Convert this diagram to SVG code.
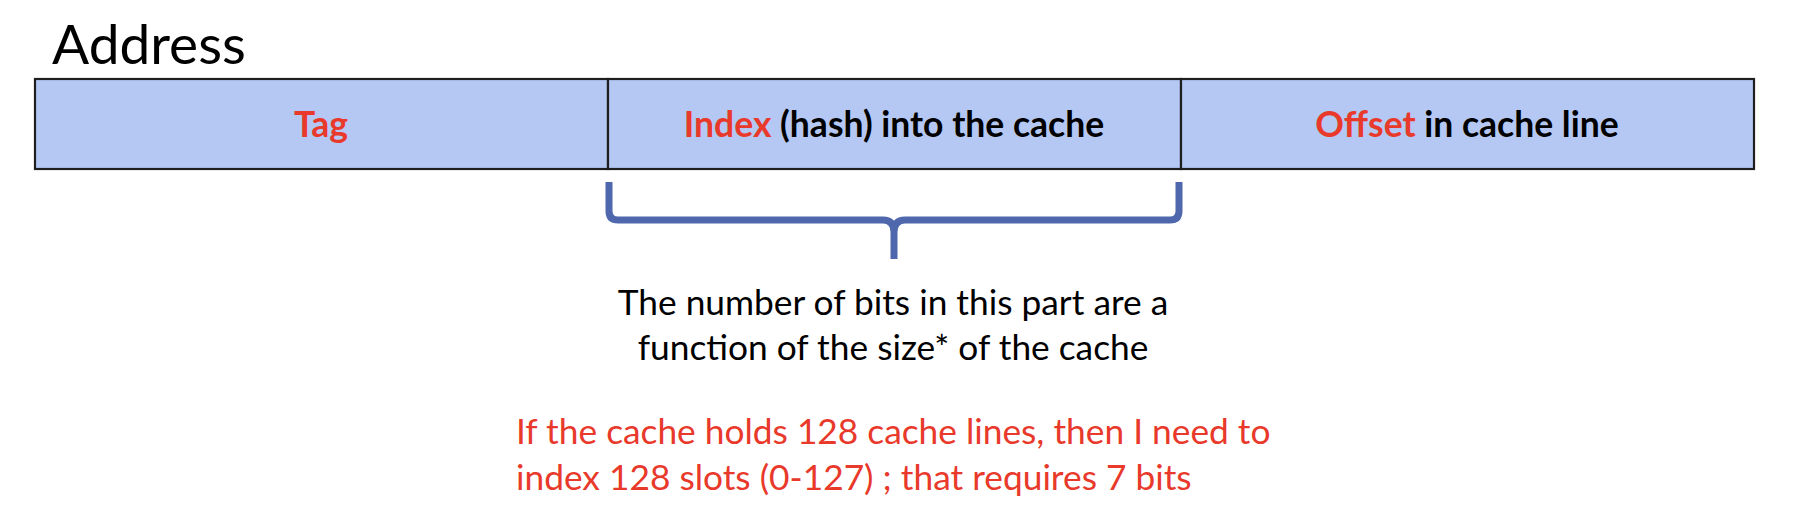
<svg xmlns="http://www.w3.org/2000/svg" width="1812" height="530" viewBox="0 0 1812 530">
<style>
.cell{fill:#B4C8F3;stroke:#1e1e1e;stroke-width:2.2}
.lbl{font-family:Lato,"Open Sans","Liberation Sans",sans-serif;font-weight:bold;font-size:35.5px;fill:#000}
.body{font-family:Lato,"Open Sans","Liberation Sans",sans-serif;font-size:35.3px;fill:#000}
.title{font-family:Lato,"Open Sans","Liberation Sans",sans-serif;font-size:55px;fill:#000}
.red{fill:#E8392B}
.brace{fill:none;stroke:#4F68AD;stroke-width:7;stroke-linecap:butt;stroke-linejoin:round}
</style>
<rect width="1812" height="530" fill="#fff"/>
<g id="title"><text class="title" x="52" y="64">Address</text></g>
<g id="tag">
<rect class="cell" x="35" y="79" width="573" height="90"/>
<text class="lbl red" x="321" y="137" text-anchor="middle">Tag</text>
</g>
<g id="index">
<rect class="cell" x="608" y="79" width="573" height="90"/>
<text class="lbl" x="894" y="137" text-anchor="middle"><tspan class="red">Index</tspan> (hash) into the cache</text>
</g>
<g id="offset">
<rect class="cell" x="1181" y="79" width="573" height="90"/>
<text class="lbl" x="1467" y="137" text-anchor="middle"><tspan class="red">Offset</tspan> in cache line</text>
</g>
<g id="connectors">
<path class="brace" d="M609,182 V211 Q609,220 618,220 H883 Q894,220 894,232 V259 M894,232 Q894,220 905,220 H1170 Q1179,220 1179,211 V182"/>
</g>
<g id="note">
<text class="body" x="893" y="315" text-anchor="middle">The number of bits in this part are a</text>
<text class="body" x="893" y="360" text-anchor="middle">function of the size* of the cache</text>
</g>
<g id="example">
<text class="body red" x="516" y="444">If the cache holds 128 cache lines, then I need to</text>
<text class="body red" x="516" y="490">index 128 slots (0-127) ; that requires 7 bits</text>
</g>
</svg>
